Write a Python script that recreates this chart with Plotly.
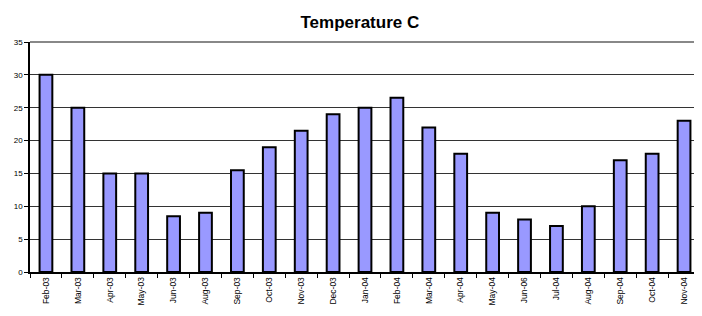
import plotly.graph_objects as go

months = ["Feb-03", "Mar-03", "Apr-03", "May-03", "Jun-03", "Aug-03", "Sep-03",
          "Oct-03", "Nov-03", "Dec-03", "Jan-04", "Feb-04", "Mar-04", "Apr-04",
          "May-04", "Jun-06", "Jul-04", "Aug-04", "Sep-04", "Oct-04", "Nov-04"]
temperature = [30, 25, 15, 15, 8.5, 9, 15.5, 19, 21.5, 24, 25, 26.5, 22, 18,
               9, 8, 7, 10, 17, 18, 23]
y_ticks = [0, 5, 10, 15, 20, 25, 30, 35]

fig = go.Figure(go.Bar(
    x=months, y=temperature, width=0.4,
    marker=dict(color="#9999FF", line=dict(color="black", width=2)),
))

fig.update_layout(
    width=694, height=308,
    margin=dict(l=22, r=2, t=34, b=44),
    paper_bgcolor="white", plot_bgcolor="white",
    font=dict(family="Liberation Sans, Arial, sans-serif", color="black", size=8),
    title=dict(text="<b>Temperature C</b>", x=0.507, xanchor="center",
               y=0.955, yanchor="middle",
               font=dict(size=17, family="Liberation Sans, Arial, sans-serif", color="black")),
    showlegend=False,
    xaxis=dict(type="category", tickangle=-90, tickfont=dict(size=8.5),
               showline=True, linecolor="black", linewidth=1.5,
               ticks="outside", tickson="boundaries", ticklen=4, tickcolor="black",
               showgrid=False, range=[-0.5, len(months) - 0.5], automargin=False),
    yaxis=dict(range=[0, 35], tickvals=y_ticks, tickfont=dict(size=8),
               showline=True, linecolor="black", linewidth=1.5,
               ticks="outside", ticklen=4, tickcolor="black",
               showgrid=True, gridcolor="#333333", gridwidth=1, zeroline=False,
               automargin=False),
    shapes=[
        dict(type="line", xref="paper", yref="paper", x0=0, x1=1, y0=1, y1=1,
             line=dict(color="#888888", width=2)),
        dict(type="line", xref="paper", yref="paper", x0=1, x1=1, y0=0, y1=1,
             line=dict(color="#888888", width=2)),
    ],
)

fig.write_html("out.html")
